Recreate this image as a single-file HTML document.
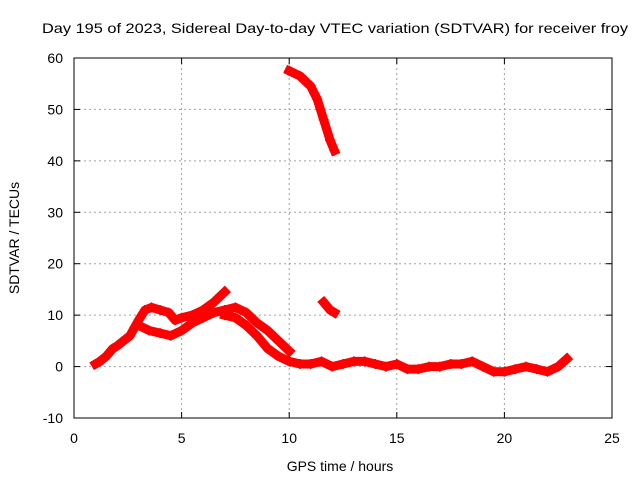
<!DOCTYPE html>
<html><head><meta charset="utf-8"><style>
body{margin:0;background:#fff}
svg text{font-family:"Liberation Sans",sans-serif;font-size:14px;fill:#000}
</style></head><body>
<svg id="c" width="640" height="480">
<text x="335" y="33" text-anchor="middle" font-size="15" textLength="586" lengthAdjust="spacingAndGlyphs">Day 195 of 2023, Sidereal Day-to-day VTEC variation (SDTVAR) for receiver froy</text>
<text x="340" y="471" text-anchor="middle">GPS time / hours</text>
<text transform="translate(19,238) rotate(-90)" text-anchor="middle">SDTVAR / TECUs</text>
<g id="grid"></g><g id="marks"></g>
<rect x="74" y="58" width="538" height="360" fill="none" stroke="#000" stroke-width="1"/>
</svg>
<script>
const xTicks=[0,5,10,15,20,25];
const yTicks=[-10,0,10,20,30,40,50,60];
const trackA=[[1.0,0.5],[1.2,1],[1.5,2],[1.8,3.5],[2.0,4],[2.3,5],[2.6,6],[2.8,7.5],[3.0,9],[3.3,11],[3.6,11.5],[4.0,11],[4.4,10.5],[4.7,9],[5.0,9.5],[5.5,10],[6.0,11],[6.5,12.5],[7.0,14.5]];
const trackB=[[3.0,8],[3.5,7],[4.0,6.5],[4.5,6],[5.0,7],[5.5,8.5],[6.0,9.5],[6.5,10.5],[7.0,11],[7.5,11.5],[8.0,10.5],[8.5,8.5],[9.0,7],[9.5,5],[10.0,3]];
const trackC=[[7.0,10],[7.5,9.5],[8.0,8],[8.5,6],[9.0,3.5],[9.5,2],[10.0,1],[10.5,0.5],[11,0.5],[11.5,1],[12,0],[12.5,0.5],[13,1],[13.5,1],[14,0.5],[14.5,0],[15,0.5],[15.5,-0.5],[16,-0.5],[16.5,0],[17,0],[17.5,0.5],[18,0.5],[18.5,1],[19,0],[19.5,-1],[20,-1],[20.5,-0.5],[21,0],[21.5,-0.5],[22,-1],[22.5,0],[22.9,1.5]];
const trackD=[[10.0,57.5],[10.5,56.5],[11,54.5],[11.3,52],[11.6,48],[11.9,44],[12.1,42]];
const trackE=[[11.6,12.5],[11.9,11],[12.1,10.5]];
const tracks=[trackA,trackB,trackC,trackD,trackE];
const X=v=>74+v*538/25, Y=v=>418-(v+10)*360/70;
const NS="http://www.w3.org/2000/svg";
const g=document.getElementById('grid'), m=document.getElementById('marks');
function mk(t,a,p){const e=document.createElementNS(NS,t);for(const k in a)e.setAttribute(k,a[k]);p.appendChild(e);return e;}
xTicks.forEach(v=>{
 if(v>0&&v<25){const l=mk('line',{x1:X(v),x2:X(v),y1:58,y2:418,stroke:'#a0a0a0','stroke-dasharray':'2,3'},g);
 
 }
 mk('line',{x1:X(v),x2:X(v),y1:418,y2:412,stroke:'#000'},g);
 mk('line',{x1:X(v),x2:X(v),y1:58,y2:64,stroke:'#000'},g);
 const t=mk('text',{x:X(v),y:443,'text-anchor':'middle'},g);t.textContent=v;
 
 
});
yTicks.forEach(v=>{
 if(v>-10&&v<60){const l=mk('line',{x1:74,x2:612,y1:Y(v),y2:Y(v),stroke:'#a0a0a0','stroke-dasharray':'2,3'},g);
 
 }
 mk('line',{x1:74,x2:80,y1:Y(v),y2:Y(v),stroke:'#000'},g);
 mk('line',{x1:612,x2:606,y1:Y(v),y2:Y(v),stroke:'#000'},g);
 const t=mk('text',{x:63,y:Y(v)+5,'text-anchor':'end'},g);t.textContent=v;
 
 
});
tracks.forEach(tr=>{
 const p=mk('polyline',{points:tr.map(d=>X(d[0])+','+Y(d[1])).join(' '),fill:'none',stroke:'#f00','stroke-width':9,'stroke-linejoin':'round','stroke-linecap':'square'},m);
 
 
 tr.forEach(d=>{
  const x=X(d[0]),y=Y(d[1]);
  const c=mk('path',{d:`M${x-5},${y}h10M${x},${y-5}v10`,stroke:'#f00','stroke-width':1.5},m);
  
  
 });
});
</script>
</body></html>
